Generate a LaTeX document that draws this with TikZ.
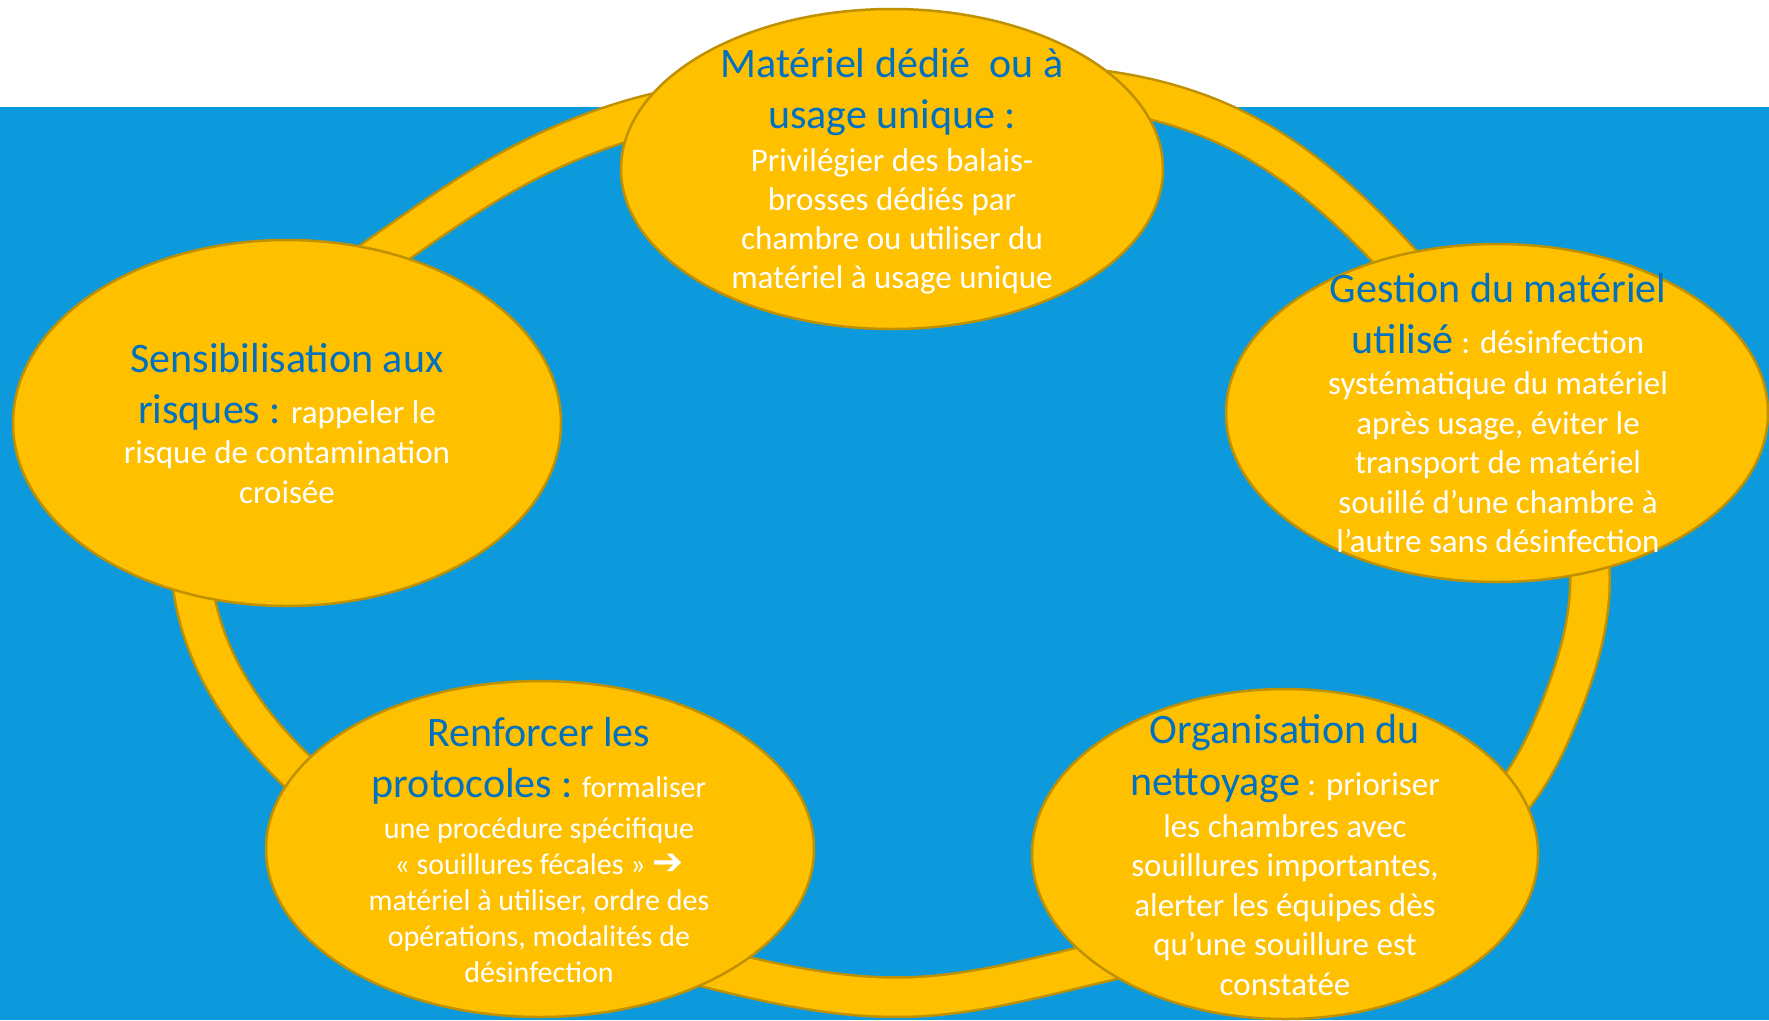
\documentclass[tikz,border=0pt]{standalone}
\usepackage{fontspec}
\setmainfont{Carlito}
\newfontfamily\symfont{DejaVu Sans}
\usetikzlibrary{shapes.geometric,hobby}
\definecolor{bgblue}{HTML}{0C9ADC}
\definecolor{gold}{HTML}{FFC000}
\definecolor{edgegold}{HTML}{BF9000}
\definecolor{hblue}{HTML}{0070C0}
\newcommand\hd[1]{{\color{hblue}\fontsize{42pt}{50pt}\selectfont #1}}
\begin{document}
\begin{tikzpicture}[x=1pt,y=-1pt,
  oval/.style={ellipse, draw=edgegold, line width=2.5pt, fill=gold, inner sep=0pt},
  tl/.style={anchor=base, inner sep=0pt, text=white, font=\fontsize{33pt}{40pt}\selectfont},
  tls/.style={anchor=base, inner sep=0pt, text=white, font=\fontsize{30pt}{36pt}\selectfont}]
\useasboundingbox (0,0) rectangle (1769,1020);
\fill[white] (0,0) rectangle (1769,107);
\fill[bgblue] (0,107) rectangle (1769,1020);
% ring
\draw[gold, line width=37pt, preaction={draw=edgegold, line width=42pt}, use Hobby shortcut, closed=true]
  (385,252) .. (520,165) .. (660,112) .. (900,88) .. (1100,90) .. (1228,126) .. (1400,262) .. (1500,380) .. (1568,480) .. (1590,580) .. (1560,710) .. (1518,790) .. (1300,915) .. (1094,964) .. (910,997) .. (730,973) .. (480,890) .. (297,771) .. (195,600) .. (195,500) .. (250,370);
% ellipses
\node[oval, minimum width=542pt, minimum height=320pt] (top) at (892,169) {};
\node[oval, minimum width=542pt, minimum height=338pt] (right) at (1497,413) {};
\node[oval, minimum width=548pt, minimum height=366pt] (left) at (287,423) {};
\node[oval, minimum width=548pt, minimum height=336pt] (botleft) at (540,849) {};
\node[oval, minimum width=506pt, minimum height=330pt] (botright) at (1285,854) {};
% top texts
\node[tl] (t1) at (892,77) {\hd{Matériel dédié\ \ ou à}};
\node[tl] (t2) at (892,128) {\hd{usage unique :}};
\node[tl] (t3) at (892,171) {Privilégier des balais-};
\node[tl] (t4) at (892,210) {brosses dédiés par};
\node[tl] (t5) at (892,249) {chambre ou utiliser du};
\node[tl] (t6) at (892,288) {matériel à usage unique};
% right texts
\node[tl] (r1) at (1498,302) {\hd{Gestion du matériel}};
\node[tl] (r2) at (1498,353) {\hd{utilisé} : désinfection};
\node[tl] (r3) at (1498,394) {systématique du matériel};
\node[tl] (r4) at (1498,434) {après usage, éviter le};
\node[tl] (r5) at (1498,473) {transport de matériel};
\node[tl] (r6) at (1498,513) {souillé d’une chambre à};
\node[tl] (r7) at (1498,552) {l’autre sans désinfection};
% left texts
\node[tl] (l1) at (287,372) {\hd{Sensibilisation aux}};
\node[tl] (l2) at (287,423) {\hd{risques :} rappeler le};
\node[tl] (l3) at (287,463) {risque de contamination};
\node[tl] (l4) at (287,503) {croisée};
% bottom-left texts
\node[tls] (b1) at (539,746) {\hd{Renforcer les}};
\node[tls] (b2) at (539,797) {\hd{protocoles :} formaliser};
\node[tls] (b3) at (539,838) {une procédure spécifique};
\node[tls] (b4) at (539,874) {« souillures fécales » {\symfont\bfseries\fontsize{37pt}{36pt}\selectfont ➔}};
\node[tls] (b5) at (539,910) {matériel à utiliser, ordre des};
\node[tls] (b6) at (539,946) {opérations, modalités de};
\node[tls] (b7) at (539,982) {désinfection};
% bottom-right texts
\node[tl] (c1) at (1285,743) {\hd{Organisation du}};
\node[tl] (c2) at (1285,795) {\hd{nettoyage} : prioriser};
\node[tl] (c3) at (1285,837) {les chambres avec};
\node[tl] (c4) at (1285,876) {souillures importantes,};
\node[tl] (c5) at (1285,916) {alerter les équipes dès};
\node[tl] (c6) at (1285,955) {qu’une souillure est};
\node[tl] (c7) at (1285,995) {constatée};
\end{tikzpicture}
\end{document}
